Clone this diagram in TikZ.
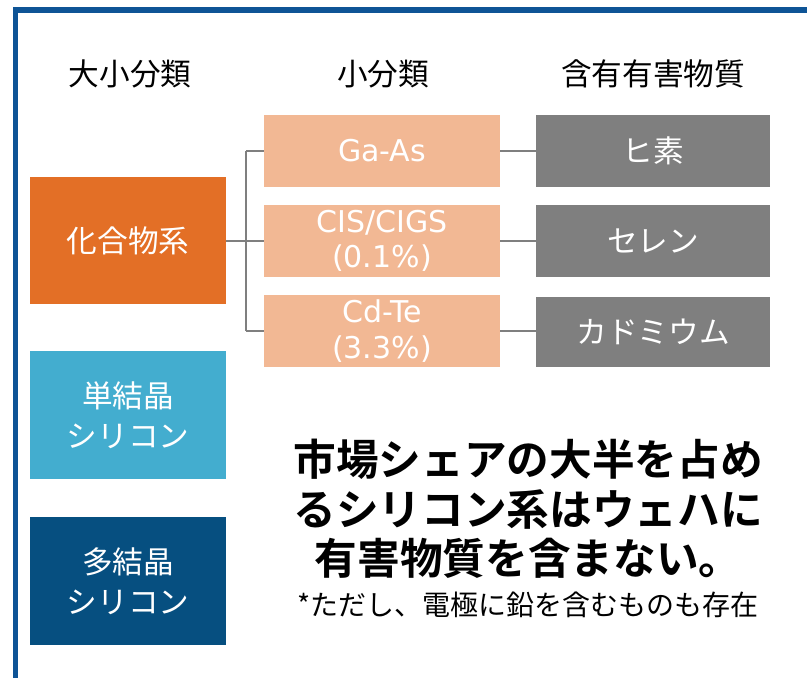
\documentclass[tikz,border=0pt]{standalone}
\usepackage{fontspec}
\setmainfont{Noto Sans CJK JP}
\newfontfamily\jpbold{Noto Sans CJK JP Bold}
\newfontfamily\latinbox{DejaVu Sans}
\definecolor{frameblue}{RGB}{14,84,150}
\definecolor{corange}{RGB}{227,111,38}
\definecolor{clblue}{RGB}{67,173,207}
\definecolor{cdblue}{RGB}{6,79,128}
\definecolor{cpeach}{RGB}{242,184,148}
\definecolor{cgray}{RGB}{127,127,127}
\tikzset{
  box/.style={draw=none, minimum width=#1*0.75pt, inner sep=0pt, align=center, text=white, font=\fontsize{23}{28}\selectfont},
  latbox/.style={box=#1, font=\latinbox\fontsize{22.5}{27}\selectfont},
  head/.style={font=\fontsize{23}{28}\selectfont, text=black},
  conn/.style={draw=cgray, line width=1.6pt}
}
\begin{document}
\begin{tikzpicture}[x=0.75pt, y=-0.75pt]
\useasboundingbox (0,0) rectangle (807,678);
\clip (0,0) rectangle (807,678);
\fill[white] (0,0) rectangle (807,678);
\draw[frameblue, line width=3.8pt] (15.5,10) rectangle (860,740);
% headers
\node[head] (h1) at (130,74) {大小分類};
\node[head] (h2) at (383,74) {小分類};
\node[head] (h3) at (653,74) {含有有害物質};
% left boxes
\node[box=196, fill=corange, minimum height=127*0.75pt] (kg) at (128,240.5) {化合物系};
\node[box=196, fill=clblue, minimum height=128*0.75pt] (tk) at (128,415) {単結晶\\[2pt]シリコン};
\node[box=196, fill=cdblue, minimum height=128*0.75pt] (tt) at (128,581) {多結晶\\[2pt]シリコン};
% peach boxes
\node[latbox=236, fill=cpeach, minimum height=72*0.75pt] (ga) at (382,151) {Ga-As};
\node[latbox=236, fill=cpeach, minimum height=72*0.75pt] (ci) at (382,241) {CIS/CIGS\\[-1pt](0.1\%)};
\node[latbox=236, fill=cpeach, minimum height=72*0.75pt] (cd) at (382,331) {Cd-Te\\[0pt](3.3\%)};
% gray boxes
\node[box=234, fill=cgray, minimum height=72*0.75pt] (hi) at (653,151) {ヒ素};
\node[box=234, fill=cgray, minimum height=72*0.75pt] (se) at (653,241) {セレン};
\node[box=234, fill=cgray, minimum height=70*0.75pt] (ca) at (653,332) {カドミウム};
% connectors
\coordinate (jn) at (246,241);
\draw[conn] (kg.east |- jn) -- (jn);
\draw[conn] (jn |- ga.west) -- (jn |- cd.west);
\draw[conn] (jn |- ga.west) -- (ga.west);
\draw[conn] (jn) -- (ci.west);
\draw[conn] (jn |- cd.west) -- (cd.west);
\draw[conn] (ga.east) -- (hi.west);
\draw[conn] (ci.east) -- (se.west);
\draw[conn] (cd.east) -- (ca.west |- cd.east);
% text
\node[align=center, font=\jpbold\fontsize{32}{37}\selectfont] (msg) at (528,509) {市場シェアの大半を占め\\るシリコン系はウェハに\\有害物質を含まない。};
\node[font=\fontsize{21}{25}\selectfont] (note) at (528,605) {*ただし、電極に鉛を含むものも存在};
\end{tikzpicture}
\end{document}
